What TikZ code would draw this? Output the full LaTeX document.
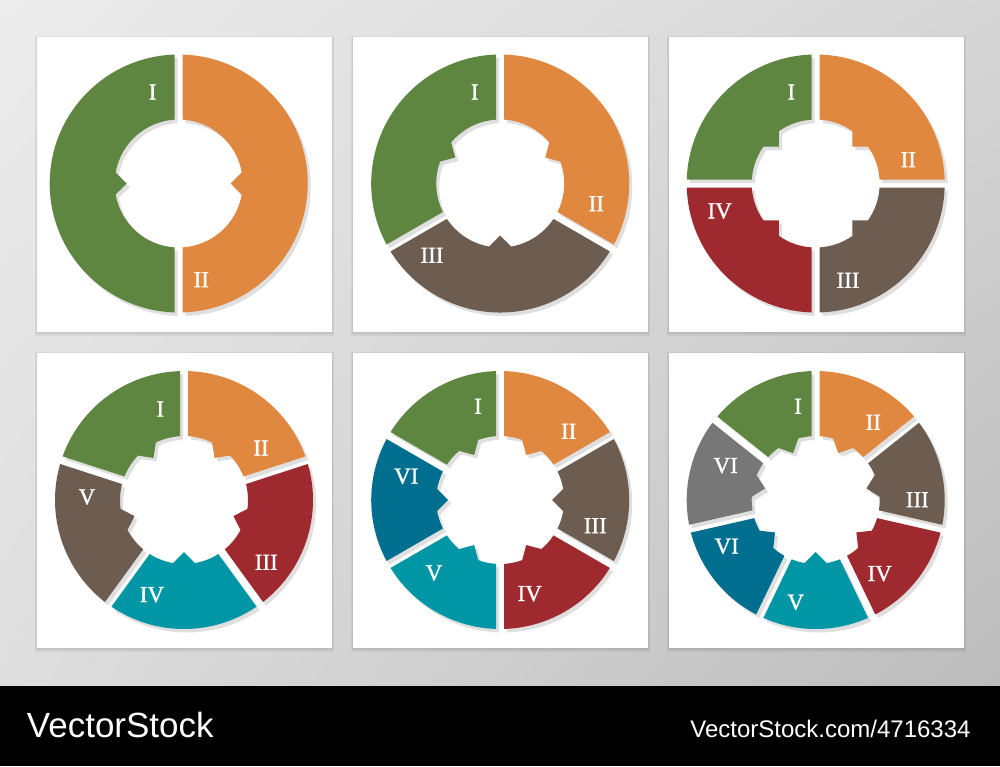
\documentclass[tikz,border=0pt]{standalone}
\usepackage{fontspec}
\usetikzlibrary{shadings}
\setmainfont{Liberation Serif}
\newfontfamily\numfont[FakeBold=1.2]{Liberation Serif}
\newfontfamily\logofont{Liberation Sans}
\definecolor{sgGreen}{HTML}{5F8640}
\definecolor{sgOrange}{HTML}{E08740}
\definecolor{sgBrown}{HTML}{6C5D50}
\definecolor{sgRed}{HTML}{9E2A30}
\definecolor{sgTeal}{HTML}{0096A5}
\definecolor{sgBlue}{HTML}{006F8F}
\definecolor{sgGray}{HTML}{777777}
\definecolor{sgShadow}{HTML}{DFDFDF}
\definecolor{bgUL}{HTML}{ECECEC}
\definecolor{bgUR}{HTML}{D6D6D6}
\definecolor{bgLL}{HTML}{DEDEDE}
\definecolor{bgLR}{HTML}{BCBCBC}
\newcommand{\sgRo}{129}
\newcommand{\sgRi}{64}
\newcommand{\sgRa}{52}
\newcommand{\sgDout}{1.777}
\newcommand{\sgDin}{3.583}
\newcommand{\sgTau}{9.93}
% one ring segment: centre x, centre y, start angle, end angle (screen, clockwise), fill colour
\newcommand{\ringseg}[5]{%
  \pgfmathsetmacro{\sgAo}{#3+\sgDout}%
  \pgfmathsetmacro{\sgBo}{#4-\sgDout}%
  \pgfmathsetmacro{\sgAi}{#3+\sgDin}%
  \pgfmathsetmacro{\sgBi}{#4-\sgDin}%
  \pgfmathsetmacro{\sgM}{(#3+#4)/2}%
  \pgfmathsetmacro{\sgMp}{\sgM+\sgTau}%
  \pgfmathsetmacro{\sgMq}{\sgM-\sgTau}%
  \fill[#5] ([shift={(#1,#2)}]\sgAo:\sgRo) arc[start angle=\sgAo, end angle=\sgBo, radius=\sgRo]
    -- ([shift={(#1,#2)}]\sgBi:\sgRi) arc[start angle=\sgBi, end angle=\sgMp, radius=\sgRi]
    -- ([shift={(#1,#2)}]\sgM:\sgRa)
    -- ([shift={(#1,#2)}]\sgMq:\sgRi) arc[start angle=\sgMq, end angle=\sgAi, radius=\sgRi]
    -- cycle;%
}
% a whole ring: centre x, centre y, number of segments, colours (I, II, III, ...)
\newcommand{\panelring}[4]{%
  \foreach \segcol [count=\segi] in {#4} {%
    \pgfmathsetmacro{\sgSa}{-90+(\segi-2)*360/#3}%
    \pgfmathsetmacro{\sgSb}{-90+(\segi-1)*360/#3}%
    \ringseg{#1+3}{#2+3.5}{\sgSa}{\sgSb}{sgShadow}%
  }%
  \foreach \segcol [count=\segi] in {#4} {%
    \pgfmathsetmacro{\sgSa}{-90+(\segi-2)*360/#3}%
    \pgfmathsetmacro{\sgSb}{-90+(\segi-1)*360/#3}%
    \ringseg{#1}{#2}{\sgSa}{\sgSb}{\segcol}%
  }%
}
\newcommand{\panelbox}[2]{%
  \fill[black, opacity=0.05] (#1-2,#2-1) rectangle (#1+297,#2+299);
  \fill[black, opacity=0.06] (#1-1,#2) rectangle (#1+296,#2+297);
  \fill[white] (#1,#2) rectangle (#1+295,#2+295);
}
\begin{document}
\begin{tikzpicture}[x=1pt, y=-1pt,
  lbl/.style={text=white, font=\numfont\fontsize{23}{23}\selectfont, inner sep=0pt, anchor=center},
  logo/.style={text=white, inner sep=0pt, anchor=base west}]
\useasboundingbox (0,0) rectangle (1000,766);
% background
\shade[upper left=bgUL, upper right=bgUR, lower left=bgLL, lower right=bgLR]
  (0,0) rectangle (1000,686);
\fill[black] (0,686) rectangle (1000,766);
% panels
\panelbox{37}{37}
\panelbox{353}{37}
\panelbox{669}{37}
\panelbox{37}{353}
\panelbox{353}{353}
\panelbox{669}{353}
% rings
\panelring{178.7}{183.5}{2}{sgGreen,sgOrange}
\panelring{500.2}{183.5}{3}{sgGreen,sgOrange,sgBrown}
\panelring{815.7}{183.5}{4}{sgGreen,sgOrange,sgBrown,sgRed}
\panelring{184}{500}{5}{sgGreen,sgOrange,sgRed,sgTeal,sgBrown}
\panelring{500.2}{500}{6}{sgGreen,sgOrange,sgBrown,sgRed,sgTeal,sgBlue}
\panelring{815.7}{500}{7}{sgGreen,sgOrange,sgBrown,sgRed,sgTeal,sgBlue,sgGray}
% labels panel 1
\node[lbl] (a1) at (152.7,92) {I};
\node[lbl] (a2) at (201.3,279.7) {II};
% labels panel 2
\node[lbl] (b1) at (474.7,92) {I};
\node[lbl] (b2) at (596.3,203.7) {II};
\node[lbl] (b3) at (432,255.3) {III};
% labels panel 3
\node[lbl] (c1) at (791.3,92) {I};
\node[lbl] (c2) at (908.3,159.7) {II};
\node[lbl] (c3) at (848,280.3) {III};
\node[lbl] (c4) at (719.7,211) {IV};
% labels panel 4
\node[lbl] (d1) at (160.3,409) {I};
\node[lbl] (d2) at (261,448) {II};
\node[lbl] (d3) at (266.3,562.3) {III};
\node[lbl] (d4) at (152,594.7) {IV};
\node[lbl] (d5) at (87,497) {V};
% labels panel 5
\node[lbl] (e1) at (478,406.3) {I};
\node[lbl] (e2) at (568.7,431.3) {II};
\node[lbl] (e3) at (595.3,525.7) {III};
\node[lbl] (e4) at (529.7,593.7) {IV};
\node[lbl] (e5) at (434,573) {V};
\node[lbl] (e6) at (406.3,476.3) {VI};
% labels panel 6
\node[lbl] (f1) at (798,406.3) {I};
\node[lbl] (f2) at (873.3,422.3) {II};
\node[lbl] (f3) at (917.3,499.7) {III};
\node[lbl] (f4) at (879.7,573.7) {IV};
\node[lbl] (f5) at (795.7,602.3) {V};
\node[lbl] (f6) at (726.7,546.3) {VI};
\node[lbl] (f7) at (725.7,465.7) {VI};
% footer
\node[logo, font=\logofont\fontsize{35}{35}\selectfont] (logoL) at (26.7,737.3) {VectorStock};
\node[logo, anchor=base east, font=\logofont\fontsize{24}{24}\selectfont] (logoR) at (970.7,737.3) {VectorStock.com/4716334};
\end{tikzpicture}
\end{document}
